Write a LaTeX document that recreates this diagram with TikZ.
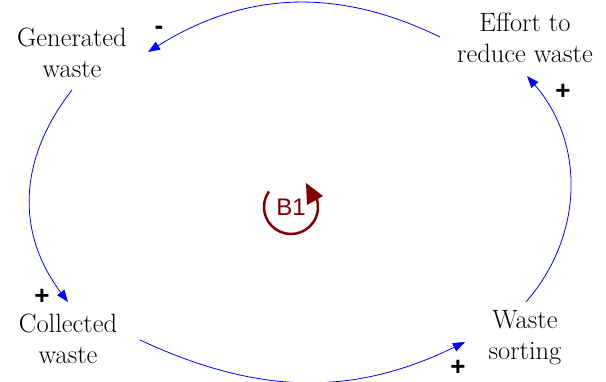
\documentclass[tikz,border=0pt]{standalone}
\usepackage{fontspec}
\newfontfamily\signfont{Liberation Sans}
\usetikzlibrary{arrows.meta,positioning}
\definecolor{loopred}{RGB}{128,0,0}

\begin{document}
\begin{tikzpicture}[
    x=1pt, y=1pt,
    varnode/.style={align=center, inner sep=0pt, font=\fontsize{26.5}{31}\selectfont},
    link/.style={-{Triangle[length=12pt,width=9pt]}, blue, line width=0.8pt},
    polarity/.style={font=\signfont\bfseries\fontsize{26}{26}\selectfont},
    loopmark/.style={font=\signfont\fontsize{24}{24}\selectfont, text=loopred}
]
\useasboundingbox (0,0) rectangle (606,381);
\node[varnode] (gen) at (72,328) {Generated\\waste};
\node[varnode] (effort) at (525,343) {Effort to\\reduce waste};
\node[varnode] (collected) at (68,42) {Collected\\waste};
\node[varnode] (sorting) at (525,43) {Waste\\sorting};

\draw[link] ([shift={(-85,1)}]effort.center) to[out=154,in=32] ([shift={(76,1)}]gen.center);
\draw[link] ([shift={(0,-37)}]gen.center) to[out=-128,in=127,looseness=1.05] ([shift={(0,37)}]collected.center);
\draw[link] ([shift={(72,-1)}]collected.center) to[out=-25,in=-154] ([shift={(-60,-4)}]sorting.center);
\draw[link] ([shift={(1,36)}]sorting.center) to[out=49,in=-49] ([shift={(2,-38)}]effort.center);

% polarities
\node[polarity] (p1) at (159,351) {-};
\node[polarity] (p2) at (42,84) {+};
\node[polarity] (p3) at (458,13) {+};
\node[polarity] (p4) at (563,289) {+};

% loop marker
\node[loopmark] (b1) at (291,174) {B1};
\draw[loopred, line width=2.5pt] ([shift={(145:27)}]b1.center) arc[start angle=145, end angle=378, radius=27];
\fill[loopred] ([shift={(15,24)}]b1.center) -- ([shift={(32,11)}]b1.center) -- ([shift={(16,2)}]b1.center) -- cycle;
\end{tikzpicture}
\end{document}
